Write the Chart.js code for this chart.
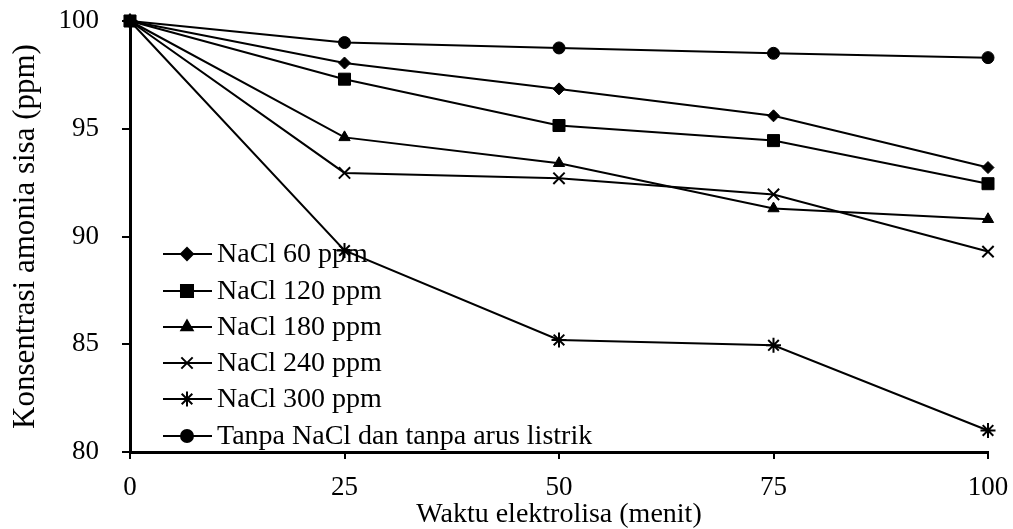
<!DOCTYPE html>
<html lang="id">
<head>
    <meta charset="UTF-8">
    <title>Konsentrasi amonia sisa</title>
    <script src="https://cdn.jsdelivr.net/npm/chart.js"></script>
    <style>
        html, body { margin: 0; padding: 0; background: #fff; }
        #wrap { width: 1013px; height: 529px; position: relative; }
    </style>
</head>
<body>
    <div id="wrap"><canvas id="chart"></canvas></div>

    <script>
        // data
        const waktu = [0, 25, 50, 75, 100];
        const nacl60 = [100, 98.05, 96.85, 95.6, 93.2];
        const nacl120 = [100, 97.3, 95.15, 94.45, 92.45];
        const nacl180 = [100, 94.6, 93.4, 91.3, 90.8];
        const nacl240 = [100, 92.95, 92.7, 91.95, 89.3];
        const nacl300 = [100, 89.35, 85.2, 84.95, 81.0];
        const tanpa = [100, 99.0, 98.75, 98.5, 98.3];
        const yTicks = [80, 85, 90, 95, 100];
        const xTicks = [0, 25, 50, 75, 100];

        const labels = ['NaCl 60 ppm', 'NaCl 120 ppm', 'NaCl 180 ppm', 'NaCl 240 ppm', 'NaCl 300 ppm', 'Tanpa NaCl dan tanpa arus listrik'];
        const styles = ['rectRot', 'rect', 'triangle', 'crossRot', 'star', 'circle'];
        const radii = [6, 8.5, 6.5, 8, 7.5, 6];
        const series = [nacl60, nacl120, nacl180, nacl240, nacl300, tanpa];

        const FONT = '"Liberation Serif", "Times New Roman", serif';

        const datasets = series.map((s, i) => ({
            label: labels[i],
            data: s.map((v, j) => ({ x: waktu[j], y: v })),
            borderColor: '#000',
            backgroundColor: '#000',
            borderWidth: 2,
            pointStyle: styles[i],
            pointRadius: radii[i],
            pointBorderWidth: (styles[i] === 'crossRot' || styles[i] === 'star') ? 2 : 1,
            pointBackgroundColor: '#000',
            pointBorderColor: '#000',
            clip: false,
            tension: 0
        }));

        // legend drawn inside the plot, bottom left
        const innerLegend = {
            id: 'innerLegend',
            afterDatasetsDraw(chart) {
                const ctx = chart.ctx;
                const rows = [254, 291, 327, 363, 399, 436];
                ctx.save();
                chart.data.datasets.forEach((ds, i) => {
                    const y = rows[i];
                    ctx.strokeStyle = '#000';
                    ctx.lineWidth = 2;
                    ctx.beginPath();
                    ctx.moveTo(163, y);
                    ctx.lineTo(212, y);
                    ctx.stroke();
                    ctx.fillStyle = '#000';
                    Chart.helpers.drawPoint(ctx, {
                        pointStyle: ds.pointStyle,
                        radius: ds.pointRadius,
                        rotation: 0,
                        borderWidth: ds.pointBorderWidth
                    }, 187, y);
                    ctx.font = '28px ' + FONT;
                    ctx.textBaseline = 'middle';
                    ctx.textAlign = 'left';
                    ctx.fillStyle = '#000';
                    ctx.fillText(ds.label, 217, y + 1);
                });
                ctx.restore();
            }
        };

        new Chart(document.getElementById('chart'), {
            type: 'line',
            data: { datasets: datasets },
            plugins: [innerLegend],
            options: {
                responsive: true,
                maintainAspectRatio: false,
                animation: false,
                layout: { padding: { top: 21, right: 25, left: 0, bottom: 0 } },
                plugins: {
                    legend: { display: false },
                    tooltip: { enabled: false }
                },
                scales: {
                    x: {
                        type: 'linear',
                        min: 0,
                        max: 100,
                        afterBuildTicks(scale) { scale.ticks = xTicks.map(v => ({ value: v })); },
                        afterFit(scale) {
                            scale.height = 77;
                            scale.paddingLeft = 0;
                            scale.paddingRight = 0;
                        },
                        grid: { drawOnChartArea: false, drawTicks: true, tickLength: 7, color: '#000', lineWidth: 2 },
                        border: { color: '#000', width: 3 },
                        ticks: { color: '#000', padding: 13, font: { family: FONT, size: 27 } },
                        title: {
                            display: true,
                            text: 'Waktu elektrolisa (menit)',
                            color: '#000',
                            font: { family: FONT, size: 28 },
                            padding: { top: 0, bottom: -2 }
                        }
                    },
                    y: {
                        min: 80,
                        max: 100,
                        afterBuildTicks(scale) { scale.ticks = yTicks.map(v => ({ value: v })); },
                        afterFit(scale) {
                            scale.width = 130;
                            scale.paddingTop = 0;
                            scale.paddingBottom = 0;
                        },
                        grid: { drawOnChartArea: false, drawTicks: true, tickLength: 8, color: '#000', lineWidth: 2 },
                        border: { color: '#000', width: 3 },
                        ticks: { color: '#000', padding: 23, font: { family: FONT, size: 27 } },
                        title: {
                            display: true,
                            text: 'Konsentrasi amonia sisa (ppm)',
                            color: '#000',
                            font: { family: FONT, size: 31 },
                            padding: { top: 7, bottom: 0 }
                        }
                    }
                }
            }
        });
    </script>
</body>
</html>
